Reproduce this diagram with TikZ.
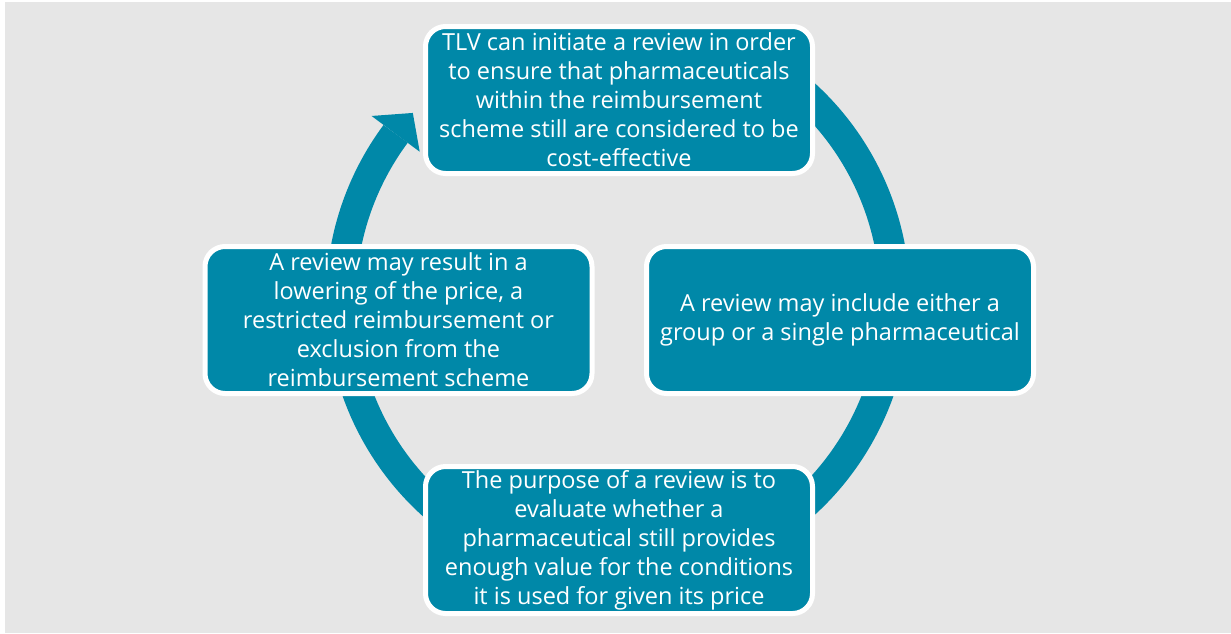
\documentclass[tikz,border=0pt]{standalone}
\usepackage{fontspec}
\setmainfont{Open Sans}
\usetikzlibrary{calc}
\definecolor{tealbox}{RGB}{0,136,168}
\definecolor{bggray}{RGB}{230,230,230}
\begin{document}
\begin{tikzpicture}[x=1pt,y=-1pt,
  box/.style={rectangle, rounded corners=20pt, draw=white, line width=5pt,
    fill=tealbox, minimum width=387pt, minimum height=147pt, inner sep=0pt,
    align=center, text=white, font=\fontsize{23.5}{29}\selectfont},
  ring/.style={draw=tealbox, line width=30pt, line cap=butt}]
\useasboundingbox (0,0) rectangle (1231,633);
\fill[bggray] (5,2) rectangle (1231,633);
\coordinate (c) at (618,299);
% circular arrow
\draw[ring] ($(c)+(-60:277)$) arc[start angle=-60, end angle=216.6, radius=277];
\fill[tealbox] ($(c)+(-143.4:307)$) -- ($(c)+(-137.8:277)$) -- ($(c)+(-143.4:247)$) -- cycle;
% boxes
\node[box] (top) at (619,100) {TLV can initiate a review in order\\to ensure that pharmaceuticals\\within the reimbursement\\scheme still are considered to be\\cost-effective};
\node[box] (right) at (840,320) {A review may include either a\\group or a single pharmaceutical};
\node[box] (bottom) at (619,540) {The purpose of a review is to\\evaluate whether a\\pharmaceutical still provides\\enough value for the conditions\\it is used for given its price};
\node[box] (left) at (398.5,320) {A review may result in a\\lowering of the price, a\\restricted reimbursement or\\exclusion from the\\reimbursement scheme};
\end{tikzpicture}
\end{document}
